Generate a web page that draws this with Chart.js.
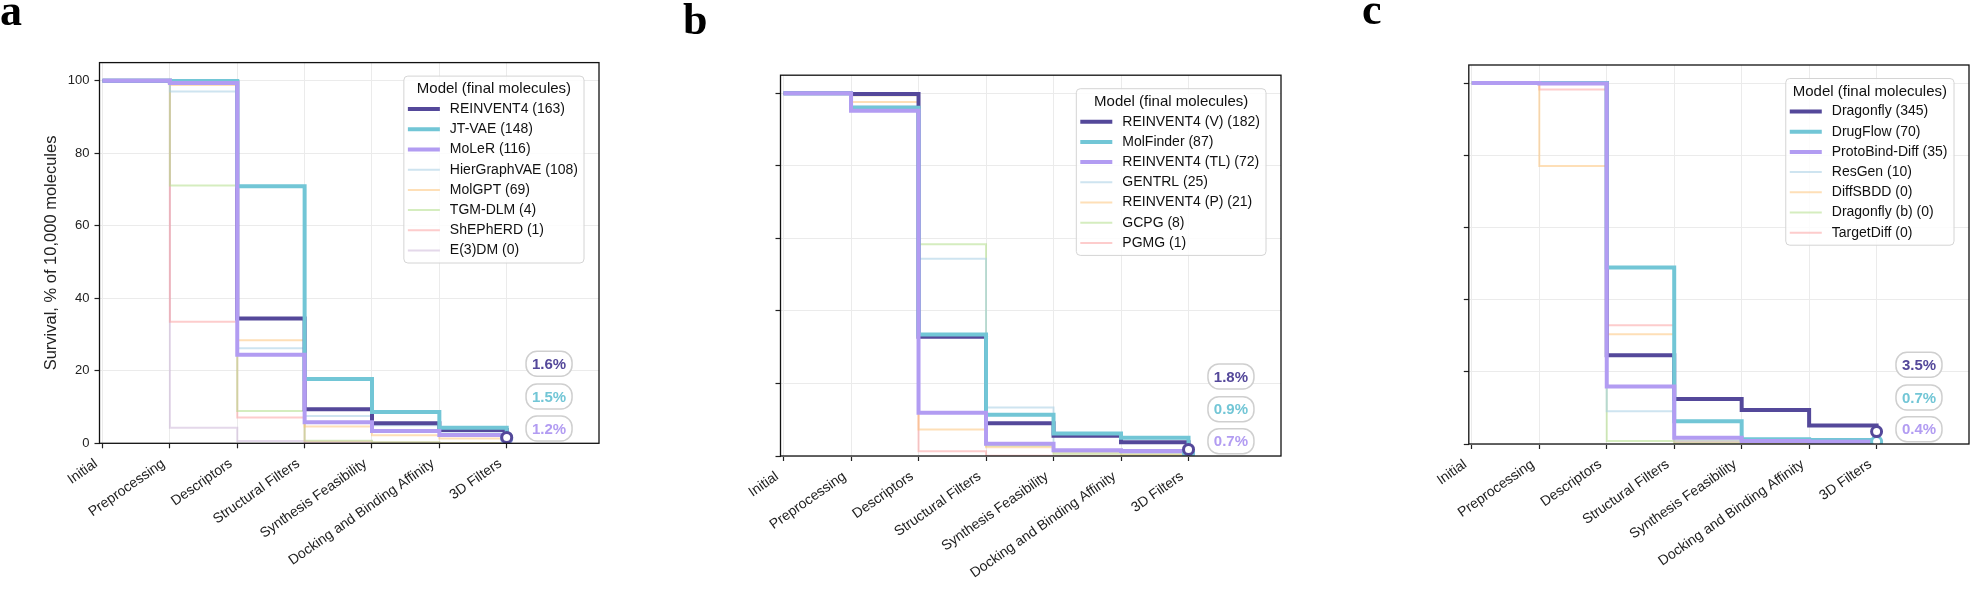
<!DOCTYPE html>
<html>
<head>
<meta charset="utf-8">
<script src="https://cdn.jsdelivr.net/npm/chart.js@4.4.1/dist/chart.umd.min.js"></script>
<style>
  body { margin: 0; background: #fff; width: 1985px; height: 598px; overflow: hidden; position: relative; }
  canvas { position: absolute; top: 0; }
</style>
</head>
<body>
<canvas id="chartA" width="640" height="598" style="left:0px"></canvas>
<canvas id="chartB" width="650" height="598" style="left:660px"></canvas>
<canvas id="chartC" width="655" height="598" style="left:1330px"></canvas>
<script>
// pipeline stages (x axis) and y ticks
const stages = ['Initial', 'Preprocessing', 'Descriptors', 'Structural Filters',
  'Synthesis Feasibility', 'Docking and Binding Affinity', '3D Filters'];
const yTicks = [0, 20, 40, 60, 80, 100];
const legendTitle = 'Model (final molecules)';

// panel a: survival (% of 10,000) after each stage
const labelsA = ['REINVENT4 (163)', 'JT-VAE (148)', 'MoLeR (116)', 'HierGraphVAE (108)',
  'MolGPT (69)', 'TGM-DLM (4)', 'ShEPhERD (1)', 'E(3)DM (0)'];
const reinvent4A = [100, 99.6, 34.4, 9.4, 5.5, 3.7, 1.63];
const jtvaeA = [100, 99.9, 70.9, 17.7, 8.6, 4.3, 1.48];
const molerA = [100, 99.4, 24.4, 5.8, 3.4, 2.3, 1.16];
const hiergraphA = [100, 97.0, 26.2, 7.5, 5.0, 2.8, 1.08];
const molgptA = [100, 98.8, 28.4, 4.6, 2.2, 1.3, 0.69];
const tgmdlmA = [100, 71.1, 8.9, 0.7, 0.3, 0.1, 0.04];
const shepherdA = [100, 33.5, 7.1, 0.5, 0.2, 0.05, 0.01];
const e3dmA = [100, 4.3, 0.6, 0, 0, 0, 0];

// panel b
const labelsB = ['REINVENT4 (V) (182)', 'MolFinder (87)', 'REINVENT4 (TL) (72)', 'GENTRL (25)',
  'REINVENT4 (P) (21)', 'GCPG (8)', 'PGMG (1)'];
const reinventVB = [100, 99.8, 32.9, 9.0, 5.6, 3.8, 1.82];
const molfinderB = [100, 96.0, 33.5, 11.4, 6.2, 5.0, 0.87];
const reinventTLB = [100, 95.2, 11.9, 3.4, 1.6, 1.4, 0.72];
const gentrlB = [100, 96.5, 54.4, 13.4, 1.2, 0.8, 0.25];
const reinventPB = [100, 97.6, 7.3, 2.4, 1.0, 0.6, 0.21];
const gcpgB = [100, 99.5, 58.4, 2.8, 0.6, 0.3, 0.08];
const pgmgB = [100, 99.5, 1.3, 0.1, 0.05, 0.02, 0.01];

// panel c
const labelsC = ['Dragonfly (345)', 'DrugFlow (70)', 'ProtoBind-Diff (35)', 'ResGen (10)',
  'DiffSBDD (0)', 'Dragonfly (b) (0)', 'TargetDiff (0)'];
const dragonflyC = [100, 100, 24.6, 12.5, 9.4, 5.1, 3.45];
const drugflowC = [100, 100, 48.9, 6.3, 1.3, 1.1, 0.70];
const protobindC = [100, 99.9, 15.9, 1.7, 0.8, 0.6, 0.36];
const resgenC = [100, 100, 9.1, 0.9, 0.4, 0.2, 0.10];
const diffsbddC = [100, 77.0, 30.4, 0.9, 0.3, 0.1, 0];
const dragonflyBC = [100, 100, 0.8, 0.2, 0.1, 0, 0];
const targetdiffC = [100, 98.2, 32.9, 0.5, 0.2, 0.1, 0];

const colors = ['#54489a', '#72c6d6', '#b29cf2', 'rgba(166,206,227,0.55)', 'rgba(253,191,111,0.5)',
  'rgba(178,223,138,0.55)', 'rgba(251,154,153,0.5)', 'rgba(202,178,214,0.5)'];
const FONT = '"Liberation Sans", Arial, sans-serif';

function buildDatasets(labels, series) {
  const sets = series.map((vals, i) => ({
    label: labels[i],
    data: vals.map((v, k) => ({ x: k, y: v })),
    borderColor: colors[i],
    borderWidth: i < 3 ? 4 : 2,
    stepped: true,
    pointRadius: 0,
    fill: false,
    order: i < 3 ? 3 - i : 10
  }));
  // open circles on the last stage for the top three
  for (let i = 0; i < 3; i++) {
    const last = series[i].length - 1;
    sets.push({
      label: '',
      data: [{ x: last, y: series[i][last] }],
      showLine: false,
      pointRadius: 5,
      pointBorderWidth: 3,
      pointBackgroundColor: '#fff',
      pointBorderColor: colors[i],
      order: i - 3
    });
  }
  return sets;
}

function roundRect(ctx, x, y, w, h, r) {
  ctx.beginPath();
  ctx.moveTo(x + r, y);
  ctx.arcTo(x + w, y, x + w, y + h, r);
  ctx.arcTo(x + w, y + h, x, y + h, r);
  ctx.arcTo(x, y + h, x, y, r);
  ctx.arcTo(x, y, x + w, y, r);
  ctx.closePath();
}

// frame, rotated stage labels, legend, percentage badges and panel letter
const panelDecor = {
  id: 'panelDecor',
  afterDraw(chart, args, o) {
    const ctx = chart.ctx;
    const a = chart.chartArea;
    ctx.save();
    ctx.strokeStyle = '#111';
    ctx.lineWidth = 1.3;
    ctx.strokeRect(a.left, a.top, a.right - a.left, a.bottom - a.top);

    // stage labels, rotated 35 degrees, right end under the tick
    ctx.fillStyle = '#222';
    ctx.font = '14px ' + FONT;
    ctx.textAlign = 'right';
    ctx.textBaseline = 'middle';
    stages.forEach((s, i) => {
      const px = chart.scales.x.getPixelForValue(i);
      ctx.save();
      ctx.translate(px - 6.4, a.bottom + 19);
      ctx.rotate(-35 * Math.PI / 180);
      ctx.fillText(s, 0, 0);
      ctx.restore();
    });

    // legend
    ctx.font = '15px ' + FONT;
    const titleW = ctx.measureText(legendTitle).width;
    ctx.font = '14px ' + FONT;
    let itemW = 0;
    o.labels.forEach(t => { itemW = Math.max(itemW, ctx.measureText(t).width); });
    const boxW = Math.max(4 + 32 + 10 + itemW + 6, titleW + 14);
    const n = o.labels.length;
    const boxH = 33 + (n - 1) * 20.2 + 12.5;
    const bx = a.right - 15 - boxW;
    const by = a.top + 13.5;
    roundRect(ctx, bx, by, boxW, boxH, 4);
    ctx.fillStyle = 'rgba(255,255,255,0.85)';
    ctx.fill();
    ctx.strokeStyle = '#d4d4d4';
    ctx.lineWidth = 1;
    ctx.stroke();
    ctx.fillStyle = '#111';
    ctx.textBaseline = 'middle';
    ctx.textAlign = 'center';
    ctx.font = '15px ' + FONT;
    ctx.fillText(legendTitle, bx + boxW / 2, by + 13);
    ctx.textAlign = 'left';
    ctx.font = '14px ' + FONT;
    o.labels.forEach((t, i) => {
      const y = by + 33 + i * 20.2;
      ctx.strokeStyle = colors[i];
      ctx.lineWidth = i < 3 ? 4 : 2;
      ctx.beginPath();
      ctx.moveTo(bx + 4, y);
      ctx.lineTo(bx + 36, y);
      ctx.stroke();
      ctx.fillStyle = '#111';
      ctx.fillText(t, bx + 46, y);
    });

    // final percentages of the top three
    const w = a.right - a.left, h = a.bottom - a.top;
    const fy = [0.209, 0.123, 0.039];
    o.finals.forEach((v, i) => {
      const cx = a.left + 0.9 * w, cy = a.bottom - fy[i] * h;
      roundRect(ctx, cx - 23, cy - 12.5, 46, 25, 11);
      ctx.fillStyle = '#fff';
      ctx.fill();
      ctx.strokeStyle = '#cfcfcf';
      ctx.lineWidth = 1.5;
      ctx.stroke();
      ctx.fillStyle = colors[i];
      ctx.font = 'bold 15px ' + FONT;
      ctx.textAlign = 'center';
      ctx.fillText(v.toFixed(1) + '%', cx, cy + 1);
    });

    // panel letter
    ctx.fillStyle = '#000';
    ctx.textAlign = 'left';
    ctx.textBaseline = 'alphabetic';
    ctx.font = 'bold 44px "Liberation Serif", "DejaVu Serif", serif';
    ctx.fillText(o.tag, o.tagX, o.tagY);
    ctx.restore();
  }
};

function makeChart(id, labels, series, g) {
  new Chart(document.getElementById(id), {
    type: 'line',
    data: { datasets: buildDatasets(labels, series) },
    options: {
      responsive: false,
      animation: false,
      devicePixelRatio: 1,
      layout: { padding: { top: g.top, right: g.right, left: 0, bottom: 0 } },
      plugins: {
        legend: { display: false },
        tooltip: { enabled: false },
        panelDecor: { labels: labels, finals: series.slice(0, 3).map(s => s[s.length - 1]),
          tag: g.tag, tagX: g.tagX, tagY: g.tagY }
      },
      scales: {
        x: {
          type: 'linear', min: -0.045, max: 7.37, bounds: 'data',
          afterFit: s => { s.height = g.xh; },
          afterBuildTicks: s => { s.ticks = stages.map((_, i) => ({ value: i })); },
          ticks: { display: false },
          grid: { color: '#ebebeb', lineWidth: 1, tickColor: '#222', tickLength: 5, tickWidth: 1.2 },
          border: { display: false }
        },
        y: {
          min: 0, max: 105, bounds: 'data',
          afterFit: s => { s.width = g.yw; },
          afterBuildTicks: s => { s.ticks = yTicks.map(v => ({ value: v })); },
          ticks: { display: g.showY, padding: 5, color: '#222', font: { family: FONT, size: 13 } },
          grid: { color: '#ebebeb', lineWidth: 1, tickColor: '#222', tickLength: 5, tickWidth: 1.2 },
          border: { display: false },
          title: { display: g.showY, text: 'Survival, % of 10,000 molecules', color: '#222',
            font: { family: FONT, size: 16.5 }, padding: { top: 42 } }
        }
      }
    },
    plugins: [panelDecor]
  });
}

makeChart('chartA', labelsA,
  [reinvent4A, jtvaeA, molerA, hiergraphA, molgptA, tgmdlmA, shepherdA, e3dmA],
  { top: 62.6, right: 41, yw: 99.5, xh: 154.7, showY: true, tag: 'a', tagX: 0, tagY: 25 });
makeChart('chartB', labelsB,
  [reinventVB, molfinderB, reinventTLB, gentrlB, reinventPB, gcpgB, pgmgB],
  { top: 75.2, right: 29, yw: 120.5, xh: 142, showY: false, tag: 'b', tagX: 23, tagY: 34 });
makeChart('chartC', labelsC,
  [dragonflyC, drugflowC, protobindC, resgenC, diffsbddC, dragonflyBC, targetdiffC],
  { top: 65, right: 16, yw: 138.8, xh: 154, showY: false, tag: 'c', tagX: 32, tagY: 24 });
</script>
</body>
</html>
